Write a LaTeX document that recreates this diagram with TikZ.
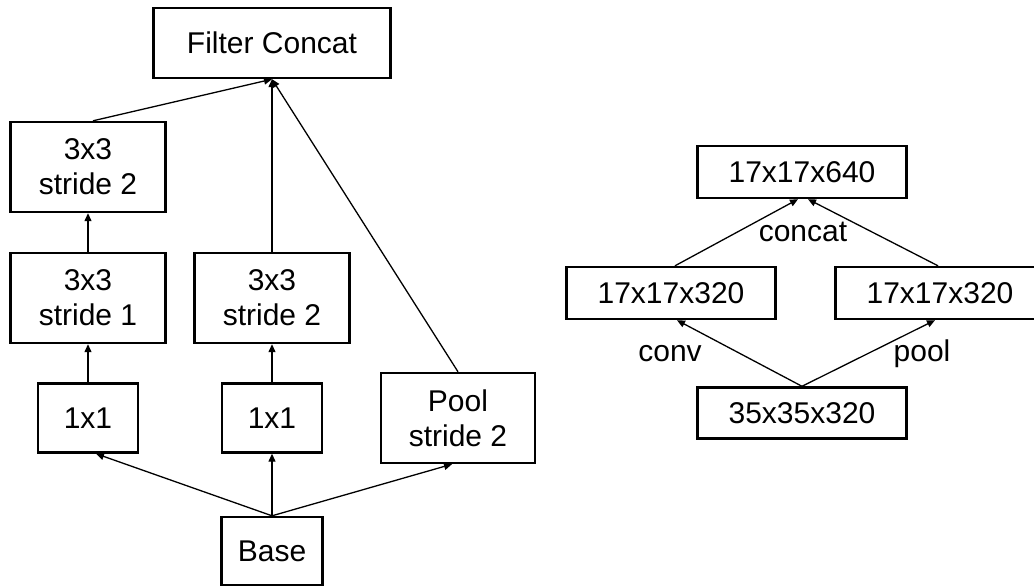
\documentclass[tikz,border=0pt]{standalone}
\usepackage{fontspec}
\setmainfont{Liberation Sans}
\usetikzlibrary{arrows.meta}

\begin{document}
\begin{tikzpicture}[x=0.5pt,y=-0.5pt,
    blk/.style={draw,line width=1.2pt,inner sep=0pt,align=center,font=\fontsize{15}{17.5}\selectfont},
    lbl/.style={inner sep=0pt,anchor=base,font=\fontsize{15}{17.5}\selectfont},
    conn/.style={line width=0.65pt,-{Triangle[length=4pt,width=3.5pt]}}]
    \useasboundingbox (0,0) rectangle (1034,588);

    % left: grid reduction block
    \node[blk,minimum width=118.5pt,minimum height=35pt] (concat) at (272,43) {Filter Concat};

    \node[blk,minimum width=77.5pt,minimum height=45pt] (s2a) at (88,167) {3x3\\stride 2};
    \node[blk,minimum width=77.5pt,minimum height=45pt] (s1) at (88,298) {3x3\\stride 1};
    \node[blk,minimum width=77.5pt,minimum height=45pt] (s2b) at (272,298) {3x3\\stride 2};

    \node[blk,minimum width=50pt,minimum height=34.5pt] (one1) at (88,418) {1x1};
    \node[blk,minimum width=50pt,minimum height=34.5pt] (one2) at (272,418) {1x1};
    \node[blk,minimum width=77pt,minimum height=45pt] (pool) at (458,418) {Pool\\stride 2};

    \node[blk,minimum width=50.5pt,minimum height=34pt] (base) at (272,551) {Base};

    % from/shift/to/shift
    \foreach \from/\fs/\to/\ts in {one1.north/0/s1.south/0,s1.north/0/s2a.south/0,one2.north/0/s2b.south/0,
        s2a.north/2.5/concat.south/0,s2b.north/0/concat.south/0,pool.north/0/concat.south/0,
        base.north/0/one1.south/4,base.north/0/one2.south/0,base.north/0/pool.south/-3}
        \draw[conn] ([xshift=\fs pt]\from)--([xshift=\ts pt]\to);

    % right: sizes
    \node[blk,minimum width=104.5pt,minimum height=26pt] (out) at (802,172) {17x17x640};
    \node[blk,minimum width=104.5pt,minimum height=26pt] (convout) at (671,293) {17x17x320};
    \node[blk,minimum width=104.5pt,minimum height=26pt] (poolout) at (940,293) {17x17x320};
    \node[blk,minimum width=104.5pt,minimum height=25.5pt] (in) at (802,413) {35x35x320};

    \foreach \from/\fs/\to/\ts in {in.north/0/convout.south/3,in.north/0/poolout.south/-2.5,
        convout.north/2/out.south/-2,poolout.north/-1/out.south/3}
        \draw[conn] ([xshift=\fs pt]\from)--([xshift=\ts pt]\to);

    \node[lbl] (concatlbl) at (803,242) {concat};
    \node[lbl] (convlbl) at (670,362) {conv};
    \node[lbl] (poollbl) at (922,362) {pool};
\end{tikzpicture}
\end{document}
